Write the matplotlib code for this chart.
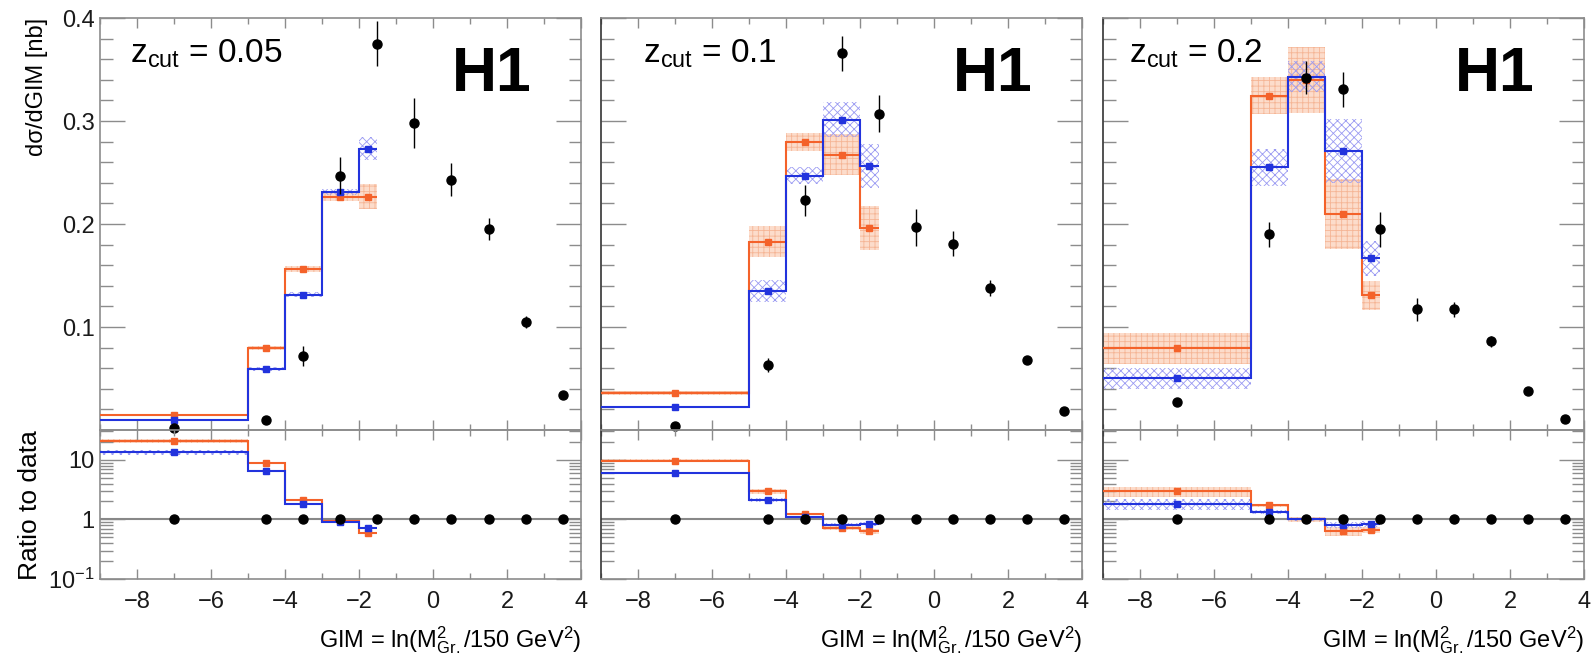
import numpy as np
import matplotlib
matplotlib.use('Agg')
import matplotlib.pyplot as plt
from matplotlib.ticker import MultipleLocator, FixedLocator, FixedFormatter, LogLocator, NullFormatter

plt.rcParams['font.family'] = ['Liberation Sans', 'DejaVu Sans']
plt.rcParams['mathtext.fontset'] = 'custom'
plt.rcParams['mathtext.rm'] = 'Liberation Sans'
plt.rcParams['mathtext.it'] = 'Liberation Sans:italic'
plt.rcParams['hatch.linewidth'] = 0.6

# bins and values
zcut_labels = ['0.05', '0.1', '0.2']
mc_edges = [-9, -5, -4, -3, -2, -1.5]
data_x = [-7, -4.5, -3.5, -2.5, -1.5, -0.5, 0.5, 1.5, 2.5, 3.5]

data_y = [[0.002, 0.0095, 0.072, 0.247, 0.375, 0.298, 0.243, 0.195, 0.105, 0.034],
          [0.004, 0.063, 0.223, 0.366, 0.307, 0.197, 0.181, 0.138, 0.068, 0.018],
          [0.027, 0.190, 0.342, 0.331, 0.195, 0.117, 0.117, 0.086, 0.038, 0.011]]
data_err = [[0.0005, 0.001, 0.010, 0.018, 0.022, 0.024, 0.016, 0.011, 0.006, 0.002],
            [0.001, 0.007, 0.015, 0.017, 0.018, 0.018, 0.012, 0.0077, 0.003, 0.001],
            [0.002, 0.012, 0.016, 0.017, 0.017, 0.011, 0.007, 0.005, 0.002, 0.001]]

orange_y = [[0.0144, 0.0795, 0.1566, 0.2266, 0.2266],
            [0.0362, 0.183, 0.2796, 0.2672, 0.196],
            [0.0795, 0.3245, 0.340, 0.2096, 0.1306]]
orange_err = [[0.001, 0.002, 0.003, 0.004, 0.012],
              [0.002, 0.015, 0.009, 0.020, 0.021],
              [0.015, 0.018, 0.032, 0.034, 0.014]]
blue_y = [[0.0095, 0.059, 0.1315, 0.2308, 0.273],
          [0.0225, 0.1348, 0.247, 0.3014, 0.2562],
          [0.0502, 0.2552, 0.343, 0.2705, 0.1667]]
blue_err = [[0.001, 0.002, 0.002, 0.003, 0.011],
            [0.001, 0.011, 0.008, 0.017, 0.021],
            [0.010, 0.018, 0.015, 0.031, 0.017]]

orange_ratio = [[20.5, 9.0, 2.15, 0.95, 0.59],
                [9.6, 2.95, 1.25, 0.73, 0.63],
                [2.95, 1.74, 1.0, 0.63, 0.67]]
blue_ratio = [[13.4, 6.6, 1.83, 0.92, 0.71],
              [6.0, 2.15, 1.1, 0.81, 0.83],
              [1.83, 1.35, 1.0, 0.81, 0.84]]

ORANGE = '#F4622A'
BLUE = '#2233DD'
FRAME = '#8c8c8c'

fig = plt.figure(figsize=(15.91, 6.56), dpi=100)

lefts = [0.06285, 0.37775, 0.69327]
width = 0.30233
zx = [0.062, 0.087, 0.054]

edges = np.array(mc_edges)
centers = 0.5 * (edges[1:] + edges[:-1])
widths = edges[1:] - edges[:-1]


def draw_band(ax, y, err, kind):
    y = np.array(y)
    err = np.array(err)
    if kind == 'orange':
        ax.bar(centers, 2 * err, bottom=y - err, width=widths, align='center',
               facecolor='#FCDCCB', edgecolor='#F5B595', hatch='+++', linewidth=0, zorder=1)
    else:
        ax.bar(centers, 2 * err, bottom=y - err, width=widths, align='center',
               facecolor='none', edgecolor='#9A9AF2', hatch='xxxx', linewidth=0, zorder=2)


def draw_mc(ax, y, color):
    ax.stairs(y, edges, baseline=None, color=color, lw=1.5, zorder=3)
    ax.plot(centers, y, 's', color=color, ms=4, zorder=4)


def style_axes(ax):
    for s in ax.spines.values():
        s.set_color(FRAME)
        s.set_linewidth(1.2)
    ax.tick_params(which='both', direction='in', top=True, right=True, colors=FRAME,
                   labelcolor='#1a1a1a', labelsize=17)
    ax.tick_params(axis='x', which='major', length=7, width=1.0, pad=9)
    ax.tick_params(axis='x', which='minor', length=4, width=1.0)
    ax.tick_params(axis='y', which='major', length=18, width=1.0, pad=4)
    ax.tick_params(axis='y', which='minor', length=9, width=1.0)
    ax.set_xlim(-9, 4)
    ax.xaxis.set_major_locator(MultipleLocator(2))
    ax.xaxis.set_minor_locator(MultipleLocator(1))


for i in range(3):
    ax = fig.add_axes([lefts[i], 0.34451, width, 0.62805])
    rx = fig.add_axes([lefts[i], 0.11738, width, 0.22713])
    rx.patch.set_alpha(0)
    style_axes(ax)
    style_axes(rx)

    # upper panel
    draw_band(ax, orange_y[i], orange_err[i], 'orange')
    draw_band(ax, blue_y[i], blue_err[i], 'blue')
    draw_mc(ax, orange_y[i], ORANGE)
    draw_mc(ax, blue_y[i], BLUE)
    ax.errorbar(data_x, data_y[i], yerr=data_err[i], fmt='o', color='black', ms=6.5,
                elinewidth=1.0, capsize=0, zorder=6, clip_on=False)
    ax.set_ylim(0, 0.4)
    ax.yaxis.set_major_locator(FixedLocator([0.1, 0.2, 0.3, 0.4]))
    ax.yaxis.set_minor_locator(MultipleLocator(0.02))
    ax.set_xticklabels([])
    if i > 0:
        ax.set_yticklabels([])
        ax.spines['left'].set_color('#333333')
        rx.spines['left'].set_color('#333333')
    ax.text(zx[i], 0.891, r'z$_{\mathrm{cut}}$ = ' + zcut_labels[i], transform=ax.transAxes,
            fontsize=24, ha='left', va='baseline')
    ax.text(0.897, 0.864, 'H1', transform=ax.transAxes, fontsize=45, fontweight='bold',
            ha='right', va='center')

    # ratio panel
    o_r = np.array(orange_ratio[i])
    b_r = np.array(blue_ratio[i])
    draw_band(rx, o_r, o_r * np.array(orange_err[i]) / np.array(orange_y[i]), 'orange')
    draw_band(rx, b_r, b_r * np.array(blue_err[i]) / np.array(blue_y[i]), 'blue')
    rx.axhline(1, color='#888888', lw=1.5, zorder=2)
    draw_mc(rx, o_r, ORANGE)
    draw_mc(rx, b_r, BLUE)
    rx.plot(data_x, np.ones(len(data_x)), 'o', color='black', ms=6.5, zorder=6)
    rx.set_yscale('log')
    rx.set_ylim(0.1, 10 ** 1.5)
    rx.yaxis.set_major_locator(FixedLocator([0.1, 1, 10]))
    rx.yaxis.set_major_formatter(FixedFormatter([r'10$^{-1}$', '1', '10']))
    rx.yaxis.set_minor_locator(LogLocator(base=10, subs=np.arange(2, 10), numticks=10))
    rx.yaxis.set_minor_formatter(NullFormatter())
    if i > 0:
        rx.set_yticklabels([])
    rx.text(1.0, -0.46, r'GIM = ln(M$^{2}_{\mathrm{Gr.}}$/150 GeV$^{2}$)', transform=rx.transAxes,
            fontsize=17, ha='right', va='baseline')

fig.text(0.023, 0.972, 'dσ/dGIM [nb]', rotation=90, ha='center', va='top', fontsize=17)
fig.text(0.019, 0.230, 'Ratio to data', rotation=90, ha='center', va='center', fontsize=19)

fig.savefig('out.png', dpi=100)
